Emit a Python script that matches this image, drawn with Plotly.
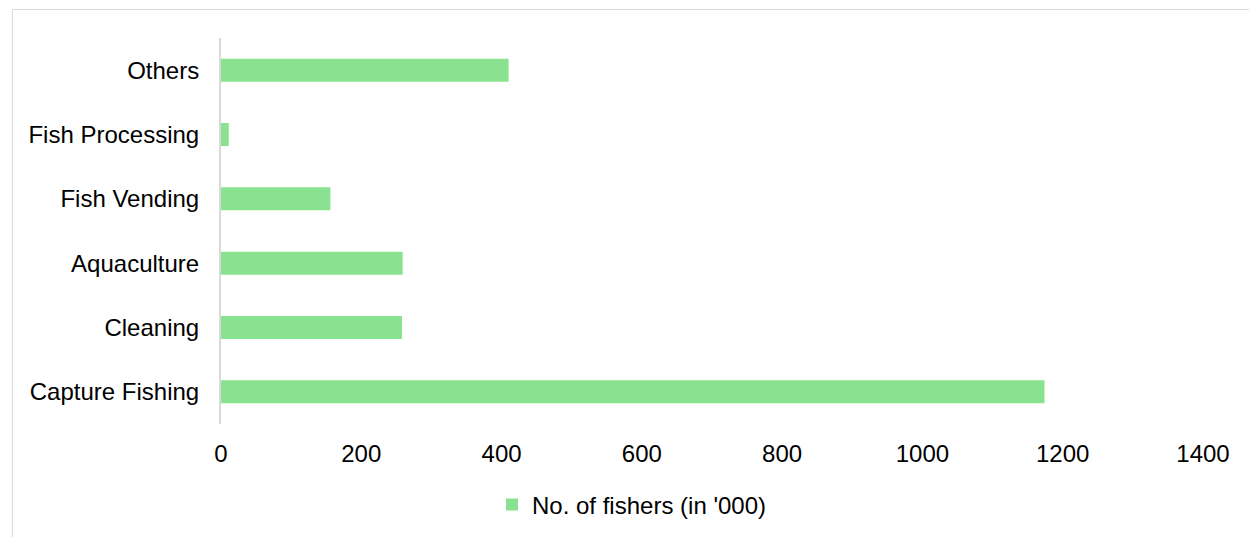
import plotly.graph_objects as go

categories = ["Capture Fishing", "Cleaning", "Aquaculture", "Fish Vending", "Fish Processing", "Others"]
values = [1174, 258, 259, 156, 11, 410]
series_name = "No. of fishers (in '000)"
x_ticks = [0, 200, 400, 600, 800, 1000, 1200, 1400]

W, H = 1249, 537
L, R, T, B = 221, 46, 38, 113
pw, ph = W - L - R, H - T - B

def px_x(p):
    return (p - L) / pw

def px_y(p):
    return (H - B - p) / ph

fig = go.Figure()
fig.add_trace(go.Bar(
    y=categories, x=values, orientation="h", name=series_name,
    marker=dict(color="#88E28F", line=dict(width=0)),
    showlegend=True,
))

font = dict(family="Liberation Sans, Arial, sans-serif", size=24, color="#000000")

fig.update_layout(
    width=W, height=H,
    margin=dict(l=L, r=R, t=T, b=B, autoexpand=False),
    paper_bgcolor="white", plot_bgcolor="white",
    font=font,
    bargap=0.642,
    xaxis=dict(range=[0, 1400], tickvals=x_ticks, showgrid=False, zeroline=False,
               showline=False, ticks="outside", ticklen=8, tickcolor="rgba(0,0,0,0)",
               tickfont=font, fixedrange=True),
    yaxis=dict(categoryorder="array", categoryarray=categories, range=[-0.5, 5.5],
               showgrid=False, zeroline=False, showline=True, linecolor="#D9D9D9",
               linewidth=2, ticks="outside", ticklen=15, tickcolor="rgba(0,0,0,0)",
               tickfont=font, fixedrange=True),
    legend=dict(orientation="h", x=px_x(492), xanchor="left", y=px_y(505), yanchor="middle",
                font=font, itemwidth=30, bgcolor="rgba(0,0,0,0)"),
    shapes=[dict(type="rect", xref="paper", yref="paper",
                 x0=px_x(12.5), x1=px_x(1252), y0=px_y(9.5), y1=px_y(545),
                 line=dict(color="#D9D9D9", width=1), fillcolor="rgba(0,0,0,0)", layer="below")],
)

fig.write_html("out.html")
